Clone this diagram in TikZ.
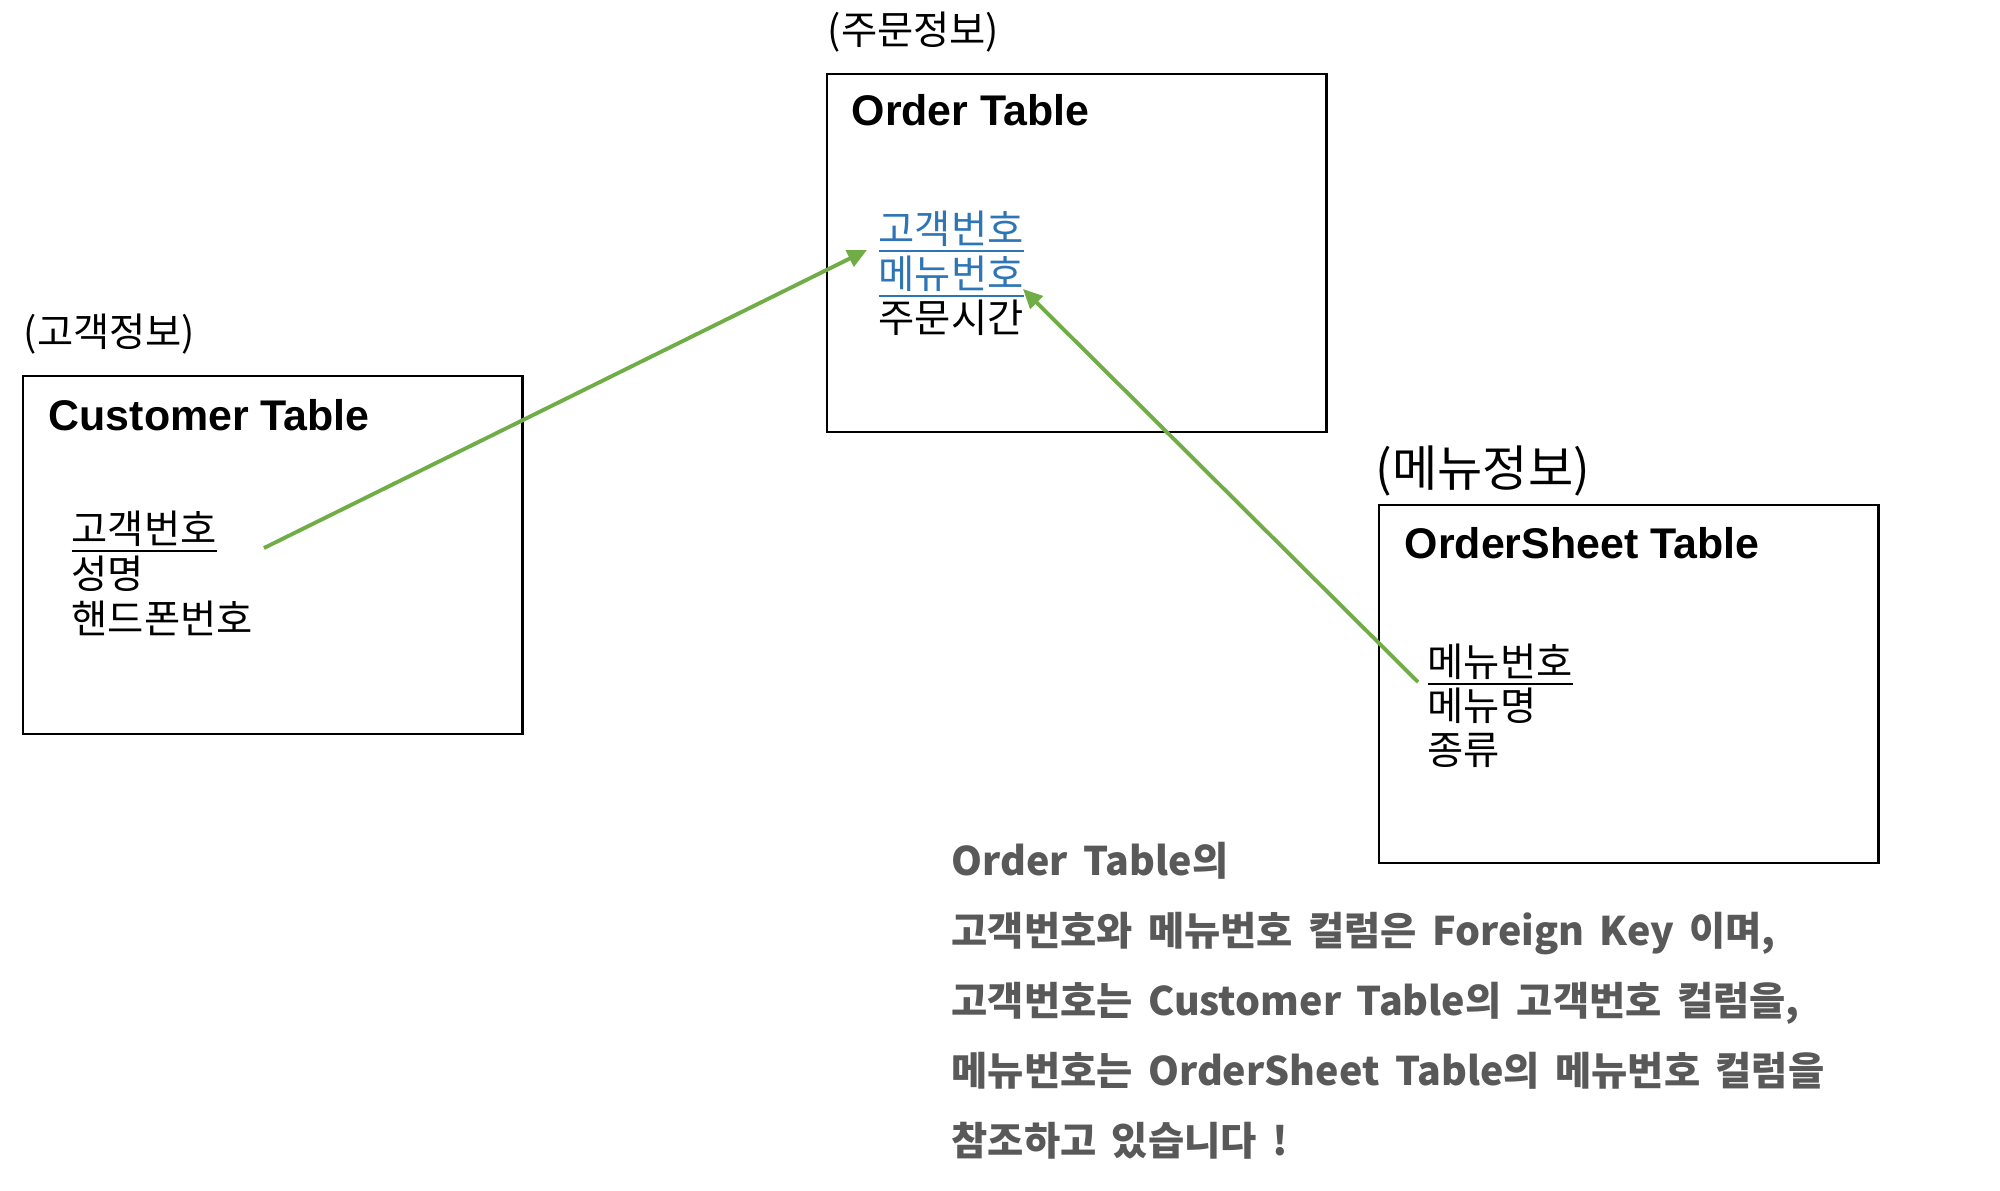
\documentclass[tikz,border=0pt]{standalone}
\usepackage{fontspec}
\setmainfont{Noto Sans CJK KR}
\newfontfamily\kr{Noto Sans CJK KR}
\newfontfamily\krnote{Noto Sans CJK KR}[WordSpace=1.7]
\newfontfamily\ttlfont{Liberation Sans}
\usetikzlibrary{arrows.meta}
\definecolor{arrowgreen}{RGB}{112,173,71}
\definecolor{linkblue}{RGB}{46,117,182}
\definecolor{notegray}{RGB}{89,89,89}
\begin{document}
\begin{tikzpicture}[x=0.01cm,y=-0.01cm,
  tbl/.style={draw=black, line width=0.7pt, anchor=north west, minimum width=4.99cm, minimum height=3.58cm, inner sep=0pt, outer sep=0pt},
  ttl/.style={anchor=base west, inner sep=0pt, font=\ttlfont\bfseries\fontsize{12.2}{14}\selectfont},
  fld/.style={anchor=base west, inner sep=0pt, font=\kr\fontsize{11.2}{13}\selectfont},
  lbl/.style={anchor=base west, inner sep=0pt, font=\kr\fontsize{11.2}{13}\selectfont},
  biglbl/.style={anchor=base west, inner sep=0pt, font=\kr\fontsize{14}{16}\selectfont},
  fk/.style={-{Triangle[length=5.5pt,width=5pt]}, draw=arrowgreen, line width=1.1pt},
  note/.style={anchor=base west, inner sep=0pt, text=notegray, font=\krnote\bfseries\fontsize{11.2}{14}\selectfont}]
\useasboundingbox (0,0) rectangle (2000,1190);
\fill[white] (0,0) rectangle (2000,1190);

% Customer table
\node[lbl] (custlbl) at (23,346) {(고객정보)};
\node[tbl] (cust) at (23,376) {};
\node[ttl] (custttl) at (48,430) {Customer Table};
\node[fld] (custno) at (71,543) {\underline{고객번호}};
\node[fld] (custname) at (71,588) {성명};
\node[fld] (custphone) at (71,633) {핸드폰번호};

% Order table
\node[lbl] (ordlbl) at (827,44) {(주문정보)};
\node[tbl] (ord) at (827,74) {};
\node[ttl] (ordttl) at (851,125) {Order Table};
\node[fld, text=linkblue] (ordcust) at (878,243) {\underline{고객번호}};
\node[fld, text=linkblue] (ordmenu) at (878,288) {\underline{메뉴번호}};
\node[fld] (ordtime) at (878,332) {주문시간};

% OrderSheet table
\node[biglbl] (menulbl) at (1375,486) {(메뉴정보)};
\node[tbl] (sheet) at (1379,505) {};
\node[ttl] (sheetttl) at (1404,558) {OrderSheet Table};
\node[fld] (sheetno) at (1427,676) {\underline{메뉴번호}};
\node[fld] (sheetname) at (1427,720) {메뉴명};
\node[fld] (sheettype) at (1427,764) {종류};

% foreign key connectors
\coordinate (fk1s) at (264,548);
\coordinate (fk1t) at (867,250);
\coordinate (fk2s) at (1418,682);
\coordinate (fk2t) at (1023,289);
\draw[fk] (fk1s) -- (fk1t);
\draw[fk] (fk2s) -- (fk2t);

% note
\node[note] (n1) at (951,875) {Order Table의};
\node[note] (n2) at (951,945) {고객번호와 메뉴번호 컬럼은 Foreign Key 이며,};
\node[note] (n3) at (951,1015) {고객번호는 Customer Table의 고객번호 컬럼을,};
\node[note] (n4) at (951,1085) {메뉴번호는 OrderSheet Table의 메뉴번호 컬럼을};
\node[note] (n5) at (951,1155) {참조하고 있습니다 !};
\end{tikzpicture}
\end{document}
